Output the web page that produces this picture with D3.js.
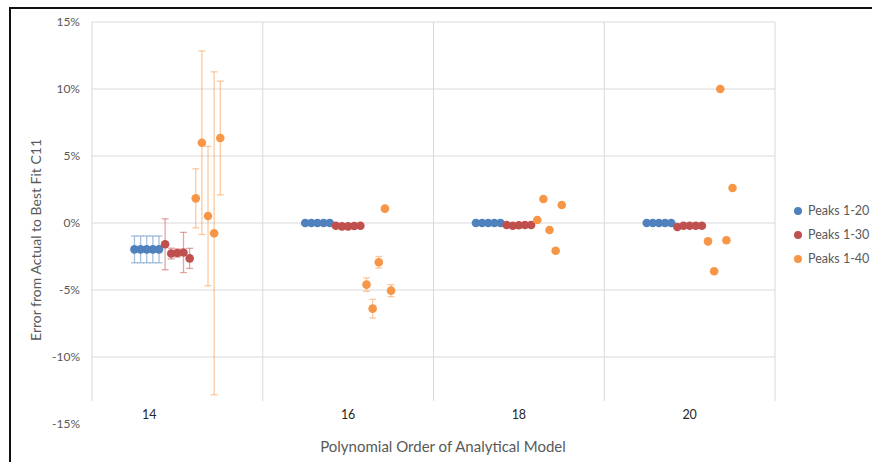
<!DOCTYPE html>
<html>
<head>
<meta charset="utf-8">
<script src="https://cdn.jsdelivr.net/npm/d3@7"></script>
<style>
  body { margin: 0; background: #fff; }
  svg { display: block; font-family: Lato, "Open Sans", sans-serif; }
</style>
</head>
<body>
<svg id="chart" width="872" height="462"></svg>
<script>
// polynomial orders (x categories) and their axis labels
const orders = [14, 16, 18, 20];
const orderLabelPos = [13.67, 16, 18, 20];
const yTicks = [-15, -10, -5, 0, 5, 10, 15];

const seriesNames = ['Peaks 1-20', 'Peaks 1-30', 'Peaks 1-40'];
const seriesColors = ['#4F81BD', '#C0504D', '#F79646'];

// error in %, 5 runs per order (rows follow `orders`)
const peaks20 = [
  [-1.97, -1.97, -1.97, -1.97, -1.97],
  [0, 0, 0, 0, 0],
  [0, 0, 0, 0, 0],
  [0, 0, 0, 0, 0]
];
const peaks20Err = [
  [1.0, 1.0, 1.0, 1.0, 1.0],
  [0, 0, 0, 0, 0],
  [0, 0, 0, 0, 0],
  [0, 0, 0, 0, 0]
];
const peaks30 = [
  [-1.59, -2.28, -2.24, -2.2, -2.64],
  [-0.2, -0.25, -0.25, -0.22, -0.2],
  [-0.15, -0.2, -0.17, -0.15, -0.15],
  [-0.3, -0.2, -0.2, -0.2, -0.2]
];
const peaks30Err = [
  [1.9, 0.4, 0.3, 1.5, 0.75],
  [0, 0, 0, 0, 0],
  [0, 0, 0, 0, 0],
  [0, 0, 0, 0, 0]
];
const peaks40 = [
  [1.84, 5.99, 0.52, -0.77, 6.34],
  [-4.6, -6.39, -2.93, 1.07, -5.05],
  [0.22, 1.79, -0.52, -2.07, 1.34],
  [-1.37, -3.6, 10.0, -1.29, 2.61]
];
const peaks40Err = [
  [2.2, 6.85, 5.2, 12.05, 4.25],
  [0.5, 0.7, 0.43, 0.1, 0.45],
  [0, 0, 0, 0, 0],
  [0, 0, 0, 0, 0]
];

const seriesValues = [peaks20, peaks30, peaks40];
const seriesErrors = [peaks20Err, peaks30Err, peaks40Err];

const svg = d3.select('#chart');

// outer frame
svg.append('rect')
  .attr('x', 10).attr('y', 8)
  .attr('width', 880).attr('height', 470)
  .attr('fill', '#fff')
  .attr('stroke', '#111').attr('stroke-width', 2);

const x = d3.scaleLinear().domain([13, 21]).range([92, 775]);
const y = d3.scaleLinear().domain([-15, 15]).range([424, 22]);
const plotBottom = 401;
const slotStep = 0.0718; // spacing between runs inside one order

// grid
svg.append('g')
  .selectAll('line')
  .data(yTicks.filter(t => t > -15))
  .join('line')
  .attr('x1', x(13)).attr('x2', x(21))
  .attr('y1', d => y(d)).attr('y2', d => y(d))
  .attr('stroke', '#d9d9d9').attr('stroke-width', 1);

svg.append('g')
  .selectAll('line')
  .data(d3.range(13, 22, 2))
  .join('line')
  .attr('x1', d => x(d)).attr('x2', d => x(d))
  .attr('y1', y(15)).attr('y2', plotBottom)
  .attr('stroke', '#d9d9d9').attr('stroke-width', 1);

// y tick labels
svg.append('g')
  .selectAll('text')
  .data(yTicks)
  .join('text')
  .attr('x', 80)
  .attr('y', d => y(d))
  .attr('dy', '0.35em')
  .attr('text-anchor', 'end')
  .attr('fill', '#595959')
  .attr('font-size', 12)
  .text(d => d + '%');

// x tick labels
svg.append('g')
  .selectAll('text')
  .data(orders)
  .join('text')
  .attr('x', (d, i) => x(orderLabelPos[i]))
  .attr('y', 415)
  .attr('dy', '0.35em')
  .attr('text-anchor', 'middle')
  .attr('fill', '#262626')
  .attr('font-size', 12.5)
  .text(d => d);

// axis titles
svg.append('text')
  .attr('transform', 'translate(41,240) rotate(-90)')
  .attr('text-anchor', 'middle')
  .attr('fill', '#595959')
  .attr('font-size', 14)
  .text('Error from Actual to Best Fit C11');

svg.append('text')
  .attr('x', 443).attr('y', 452)
  .attr('text-anchor', 'middle')
  .attr('fill', '#595959')
  .attr('font-size', 15)
  .text('Polynomial Order of Analytical Model');

// build points
const points = [];
seriesValues.forEach((vals, s) => {
  vals.forEach((row, o) => {
    row.forEach((v, j) => {
      const slot = s * 5 + j;
      points.push({
        s: s,
        xv: orders[o] + (slot - 7) * slotStep,
        v: v,
        e: seriesErrors[s][o][j]
      });
    });
  });
});

// error bars
const eb = svg.append('g')
  .selectAll('g')
  .data(points.filter(p => p.e > 0))
  .join('g')
  .attr('stroke', d => seriesColors[d.s])
  .attr('stroke-opacity', 0.5)
  .attr('stroke-width', 1.3);

eb.append('line')
  .attr('x1', d => x(d.xv)).attr('x2', d => x(d.xv))
  .attr('y1', d => y(d.v + d.e)).attr('y2', d => y(d.v - d.e));
eb.append('line')
  .attr('x1', d => x(d.xv) - 3.5).attr('x2', d => x(d.xv) + 3.5)
  .attr('y1', d => y(d.v + d.e)).attr('y2', d => y(d.v + d.e));
eb.append('line')
  .attr('x1', d => x(d.xv) - 3.5).attr('x2', d => x(d.xv) + 3.5)
  .attr('y1', d => y(d.v - d.e)).attr('y2', d => y(d.v - d.e));

// markers
svg.append('g')
  .selectAll('circle')
  .data(points)
  .join('circle')
  .attr('cx', d => x(d.xv))
  .attr('cy', d => y(d.v))
  .attr('r', 4.3)
  .attr('fill', d => seriesColors[d.s]);

// legend
const legend = svg.append('g')
  .selectAll('g')
  .data(seriesNames)
  .join('g')
  .attr('transform', (d, i) => `translate(798,${211 + i * 24})`);

legend.append('circle')
  .attr('r', 4)
  .attr('fill', (d, i) => seriesColors[i]);

legend.append('text')
  .attr('x', 10)
  .attr('dy', '0.35em')
  .attr('fill', '#595959')
  .attr('font-size', 12.5)
  .text(d => d);
</script>
</body>
</html>
